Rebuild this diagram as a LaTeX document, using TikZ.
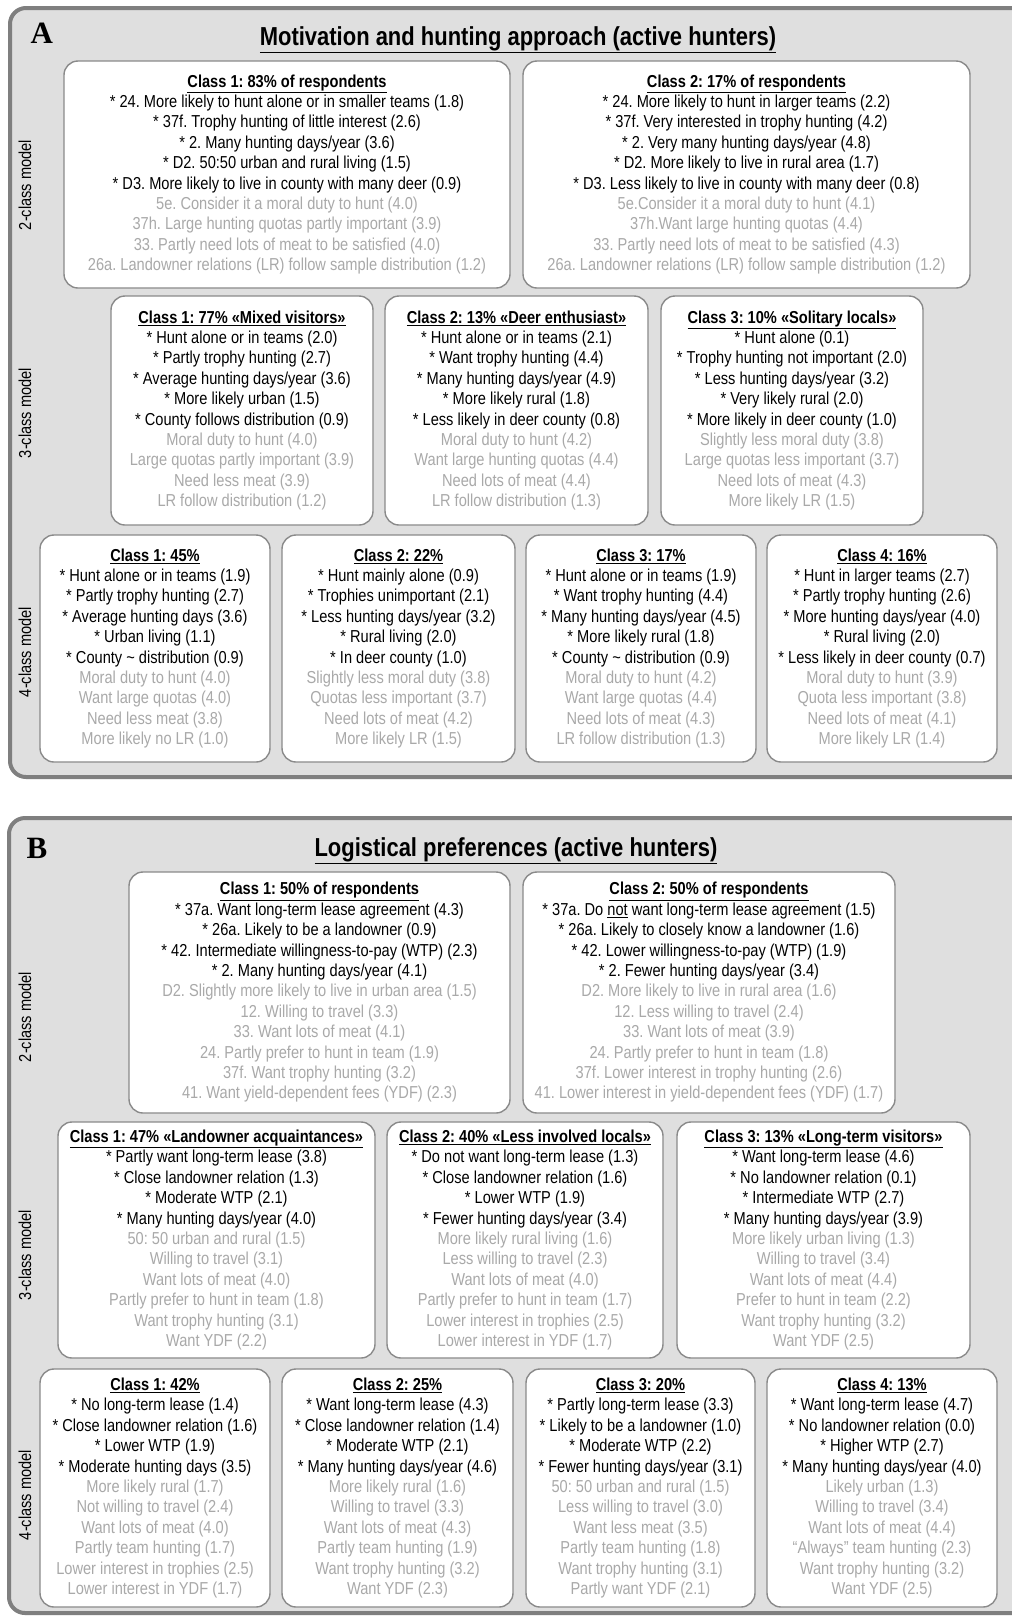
\documentclass[tikz,border=0pt]{standalone}
\usepackage{fontspec}
\setmainfont{Liberation Sans}[FakeStretch=0.845]
\newfontfamily\letterfont{Liberation Serif}
\usepackage{xcolor}
\usepackage{tikz}
\usetikzlibrary{positioning}

\definecolor{panelfill}{HTML}{DFDFDF}
\definecolor{panelline}{HTML}{7F7F7F}
\definecolor{boxline}{HTML}{8A8A8A}
\definecolor{faint}{HTML}{A9A9A9}

\newcommand{\hd}[1]{\textbf{\underline{#1}}}
\newcommand{\fa}[1]{\textcolor{faint}{#1}}
\frenchspacing

\begin{document}
\begin{tikzpicture}[x=1pt,y=-1pt,every node/.style={font=\fontsize{17.3}{20.4}\selectfont}]
  \tikzstyle{panel} = [draw=panelline, line width=4pt, fill=panelfill, rounded corners=16pt]
  \tikzstyle{classbox} = [draw=boxline, line width=1.4pt, fill=white,
      rounded corners=14pt, align=center, inner sep=0pt]
  \tikzstyle{modellabel} = [rotate=90]
  \tikzstyle{paneltitle} = [font=\fontsize{26}{30}\selectfont\bfseries, anchor=base]
  \tikzstyle{panelletter} = [font=\fontsize{31}{36}\selectfont\letterfont\bfseries, anchor=base west]

  \useasboundingbox (0,0) rectangle (1012,1618);
  \fill[white] (0,0) rectangle (1012,1618);
  \clip (0,0) rectangle (1012,1618);

  % the two grey panels run off the right edge of the page
  \draw[panel] (10,8) rectangle (1045,777);
  \draw[panel] (9,818) rectangle (1045,1613);

  % ---------------- panel A ----------------
  \node (letterA) [panelletter] at (27,43) {A};
  \node (titleA)  [paneltitle]  at (518,45) {\underline{Motivation and hunting approach (active hunters)}};

  \node (a2lab) [modellabel] at (25,185) {2-class model};
  \node (a3lab) [modellabel] at (25,413) {3-class model};
  \node (a4lab) [modellabel] at (25,652) {4-class model};

  \node (a2c1) [classbox, minimum width=446, minimum height=227] at (287,174.5) {%
    \hd{Class 1: 83\% of respondents}\\
    * 24. More likely to hunt alone or in smaller teams (1.8)\\
    * 37f. Trophy hunting of little interest (2.6)\\
    * 2. Many hunting days/year (3.6)\\
    * D2. 50:50 urban and rural living (1.5)\\
    * D3. More likely to live in county with many deer (0.9)\\
    \fa{5e. Consider it a moral duty to hunt (4.0)}\\
    \fa{37h. Large hunting quotas partly important (3.9)}\\
    \fa{33. Partly need lots of meat to be satisfied (4.0)}\\
    \fa{26a. Landowner relations (LR) follow sample distribution (1.2)}};
  \node (a2c2) [classbox, minimum width=447, minimum height=227] at (746.5,174.5) {%
    \hd{Class 2: 17\% of respondents}\\
    * 24. More likely to hunt in larger teams (2.2)\\
    * 37f. Very interested in trophy hunting (4.2)\\
    * 2. Very many hunting days/year (4.8)\\
    * D2. More likely to live in rural area (1.7)\\
    * D3. Less likely to live in county with many deer (0.8)\\
    \fa{5e.Consider it a moral duty to hunt (4.1)}\\
    \fa{37h.Want large hunting quotas (4.4)}\\
    \fa{33. Partly need lots of meat to be satisfied (4.3)}\\
    \fa{26a. Landowner relations (LR) follow sample distribution (1.2)}};

  \node (a3c1) [classbox, minimum width=262, minimum height=229] at (242,410.5) {%
    \hd{Class 1: 77\% «Mixed visitors»}\\
    * Hunt alone or in teams (2.0)\\
    * Partly trophy hunting (2.7)\\
    * Average hunting days/year (3.6)\\
    * More likely urban (1.5)\\
    * County follows distribution (0.9)\\
    \fa{Moral duty to hunt (4.0)}\\
    \fa{Large quotas partly important (3.9)}\\
    \fa{Need less meat (3.9)}\\
    \fa{LR follow distribution (1.2)}};
  \node (a3c2) [classbox, minimum width=263, minimum height=229] at (516.5,410.5) {%
    \hd{Class 2: 13\% «Deer enthusiast»}\\
    * Hunt alone or in teams (2.1)\\
    * Want trophy hunting (4.4)\\
    * Many hunting days/year (4.9)\\
    * More likely rural (1.8)\\
    * Less likely in deer county (0.8)\\
    \fa{Moral duty to hunt (4.2)}\\
    \fa{Want large hunting quotas (4.4)}\\
    \fa{Need lots of meat (4.4)}\\
    \fa{LR follow distribution (1.3)}};
  \node (a3c3) [classbox, minimum width=262, minimum height=229] at (792,410.5) {%
    \hd{Class 3: 10\% «Solitary locals»}\\
    * Hunt alone (0.1)\\
    * Trophy hunting not important (2.0)\\
    * Less hunting days/year (3.2)\\
    * Very likely rural (2.0)\\
    * More likely in deer county (1.0)\\
    \fa{Slightly less moral duty (3.8)}\\
    \fa{Large quotas less important (3.7)}\\
    \fa{Need lots of meat (4.3)}\\
    \fa{More likely LR (1.5)}};

  \node (a4c1) [classbox, minimum width=230, minimum height=227] at (155,648.5) {%
    \hd{Class 1: 45\%}\\
    * Hunt alone or in teams (1.9)\\
    * Partly trophy hunting (2.7)\\
    * Average hunting days (3.6)\\
    * Urban living (1.1)\\
    * County \textasciitilde{} distribution (0.9)\\
    \fa{Moral duty to hunt (4.0)}\\
    \fa{Want large quotas (4.0)}\\
    \fa{Need less meat (3.8)}\\
    \fa{More likely no LR (1.0)}};
  \node (a4c2) [classbox, minimum width=233, minimum height=227] at (398.5,648.5) {%
    \hd{Class 2: 22\%}\\
    * Hunt mainly alone (0.9)\\
    * Trophies unimportant (2.1)\\
    * Less hunting days/year (3.2)\\
    * Rural living (2.0)\\
    * In deer county (1.0)\\
    \fa{Slightly less moral duty (3.8)}\\
    \fa{Quotas less important (3.7)}\\
    \fa{Need lots of meat (4.2)}\\
    \fa{More likely LR (1.5)}};
  \node (a4c3) [classbox, minimum width=230, minimum height=227] at (641,648.5) {%
    \hd{Class 3: 17\%}\\
    * Hunt alone or in teams (1.9)\\
    * Want trophy hunting (4.4)\\
    * Many hunting days/year (4.5)\\
    * More likely rural (1.8)\\
    * County \textasciitilde{} distribution (0.9)\\
    \fa{Moral duty to hunt (4.2)}\\
    \fa{Want large quotas (4.4)}\\
    \fa{Need lots of meat (4.3)}\\
    \fa{LR follow distribution (1.3)}};
  \node (a4c4) [classbox, minimum width=230, minimum height=227] at (882,648.5) {%
    \hd{Class 4: 16\%}\\
    * Hunt in larger teams (2.7)\\
    * Partly trophy hunting (2.6)\\
    * More hunting days/year (4.0)\\
    * Rural living (2.0)\\
    * Less likely in deer county (0.7)\\
    \fa{Moral duty to hunt (3.9)}\\
    \fa{Quota less important (3.8)}\\
    \fa{Need lots of meat (4.1)}\\
    \fa{More likely LR (1.4)}};

  % ---------------- panel B ----------------
  \node (letterB) [panelletter] at (23,858) {B};
  \node (titleB)  [paneltitle]  at (516,856) {\underline{Logistical preferences (active hunters)}};

  \node (b2lab) [modellabel] at (25,1017) {2-class model};
  \node (b3lab) [modellabel] at (25,1255) {3-class model};
  \node (b4lab) [modellabel] at (25,1495) {4-class model};

  \node (b2c1) [classbox, minimum width=381, minimum height=241] at (319.5,992.5) {%
    \hd{Class 1: 50\% of respondents}\\
    * 37a. Want long-term lease agreement (4.3)\\
    * 26a. Likely to be a landowner (0.9)\\
    * 42. Intermediate willingness-to-pay (WTP) (2.3)\\
    * 2. Many hunting days/year (4.1)\\
    \fa{D2. Slightly more likely to live in urban area (1.5)}\\
    \fa{12. Willing to travel (3.3)}\\
    \fa{33. Want lots of meat (4.1)}\\
    \fa{24. Partly prefer to hunt in team (1.9)}\\
    \fa{37f. Want trophy hunting (3.2)}\\
    \fa{41. Want yield-dependent fees (YDF) (2.3)}};
  \node (b2c2) [classbox, minimum width=372, minimum height=241] at (709,992.5) {%
    \hd{Class 2: 50\% of respondents}\\
    * 37a. Do \underline{not} want long-term lease agreement (1.5)\\
    * 26a. Likely to closely know a landowner (1.6)\\
    * 42. Lower willingness-to-pay (WTP) (1.9)\\
    * 2. Fewer hunting days/year (3.4)\\
    \fa{D2. More likely to live in rural area (1.6)}\\
    \fa{12. Less willing to travel (2.4)}\\
    \fa{33. Want lots of meat (3.9)}\\
    \fa{24. Partly prefer to hunt in team (1.8)}\\
    \fa{37f. Lower interest in trophy hunting (2.6)}\\
    \fa{41. Lower interest in yield-dependent fees (YDF) (1.7)}};

  \node (b3c1) [classbox, minimum width=317, minimum height=236] at (216.5,1240) {%
    \hd{Class 1: 47\% «Landowner acquaintances»}\\
    * Partly want long-term lease (3.8)\\
    * Close landowner relation (1.3)\\
    * Moderate WTP (2.1)\\
    * Many hunting days/year (4.0)\\
    \fa{50: 50 urban and rural (1.5)}\\
    \fa{Willing to travel (3.1)}\\
    \fa{Want lots of meat (4.0)}\\
    \fa{Partly prefer to hunt in team (1.8)}\\
    \fa{Want trophy hunting (3.1)}\\
    \fa{Want YDF (2.2)}};
  \node (b3c2) [classbox, minimum width=276, minimum height=236] at (525,1240) {%
    \hd{Class 2: 40\% «Less involved locals»}\\
    * Do not want long-term lease (1.3)\\
    * Close landowner relation (1.6)\\
    * Lower WTP (1.9)\\
    * Fewer hunting days/year (3.4)\\
    \fa{More likely rural living (1.6)}\\
    \fa{Less willing to travel (2.3)}\\
    \fa{Want lots of meat (4.0)}\\
    \fa{Partly prefer to hunt in team (1.7)}\\
    \fa{Lower interest in trophies (2.5)}\\
    \fa{Lower interest in YDF (1.7)}};
  \node (b3c3) [classbox, minimum width=293, minimum height=236] at (823.5,1240) {%
    \hd{Class 3: 13\% «Long-term visitors»}\\
    * Want long-term lease (4.6)\\
    * No landowner relation (0.1)\\
    * Intermediate WTP (2.7)\\
    * Many hunting days/year (3.9)\\
    \fa{More likely urban living (1.3)}\\
    \fa{Willing to travel (3.4)}\\
    \fa{Want lots of meat (4.4)}\\
    \fa{Prefer to hunt in team (2.2)}\\
    \fa{Want trophy hunting (3.2)}\\
    \fa{Want YDF (2.5)}};

  \node (b4c1) [classbox, minimum width=230, minimum height=238] at (155,1488) {%
    \hd{Class 1: 42\%}\\
    * No long-term lease (1.4)\\
    * Close landowner relation (1.6)\\
    * Lower WTP (1.9)\\
    * Moderate hunting days (3.5)\\
    \fa{More likely rural (1.7)}\\
    \fa{Not willing to travel (2.4)}\\
    \fa{Want lots of meat (4.0)}\\
    \fa{Partly team hunting (1.7)}\\
    \fa{Lower interest in trophies (2.5)}\\
    \fa{Lower interest in YDF (1.7)}};
  \node (b4c2) [classbox, minimum width=231, minimum height=238] at (397.5,1488) {%
    \hd{Class 2: 25\%}\\
    * Want long-term lease (4.3)\\
    * Close landowner relation (1.4)\\
    * Moderate WTP (2.1)\\
    * Many hunting days/year (4.6)\\
    \fa{More likely rural (1.6)}\\
    \fa{Willing to travel (3.3)}\\
    \fa{Want lots of meat (4.3)}\\
    \fa{Partly team hunting (1.9)}\\
    \fa{Want trophy hunting (3.2)}\\
    \fa{Want YDF (2.3)}};
  \node (b4c3) [classbox, minimum width=229, minimum height=238] at (640.5,1488) {%
    \hd{Class 3: 20\%}\\
    * Partly long-term lease (3.3)\\
    * Likely to be a landowner (1.0)\\
    * Moderate WTP (2.2)\\
    * Fewer hunting days/year (3.1)\\
    \fa{50: 50 urban and rural (1.5)}\\
    \fa{Less willing to travel (3.0)}\\
    \fa{Want less meat (3.5)}\\
    \fa{Partly team hunting (1.8)}\\
    \fa{Want trophy hunting (3.1)}\\
    \fa{Partly want YDF (2.1)}};
  \node (b4c4) [classbox, minimum width=230, minimum height=238] at (882,1488) {%
    \hd{Class 4: 13\%}\\
    * Want long-term lease (4.7)\\
    * No landowner relation (0.0)\\
    * Higher WTP (2.7)\\
    * Many hunting days/year (4.0)\\
    \fa{Likely urban (1.3)}\\
    \fa{Willing to travel (3.4)}\\
    \fa{Want lots of meat (4.4)}\\
    \fa{“Always” team hunting (2.3)}\\
    \fa{Want trophy hunting (3.2)}\\
    \fa{Want YDF (2.5)}};
\end{tikzpicture}
\end{document}
